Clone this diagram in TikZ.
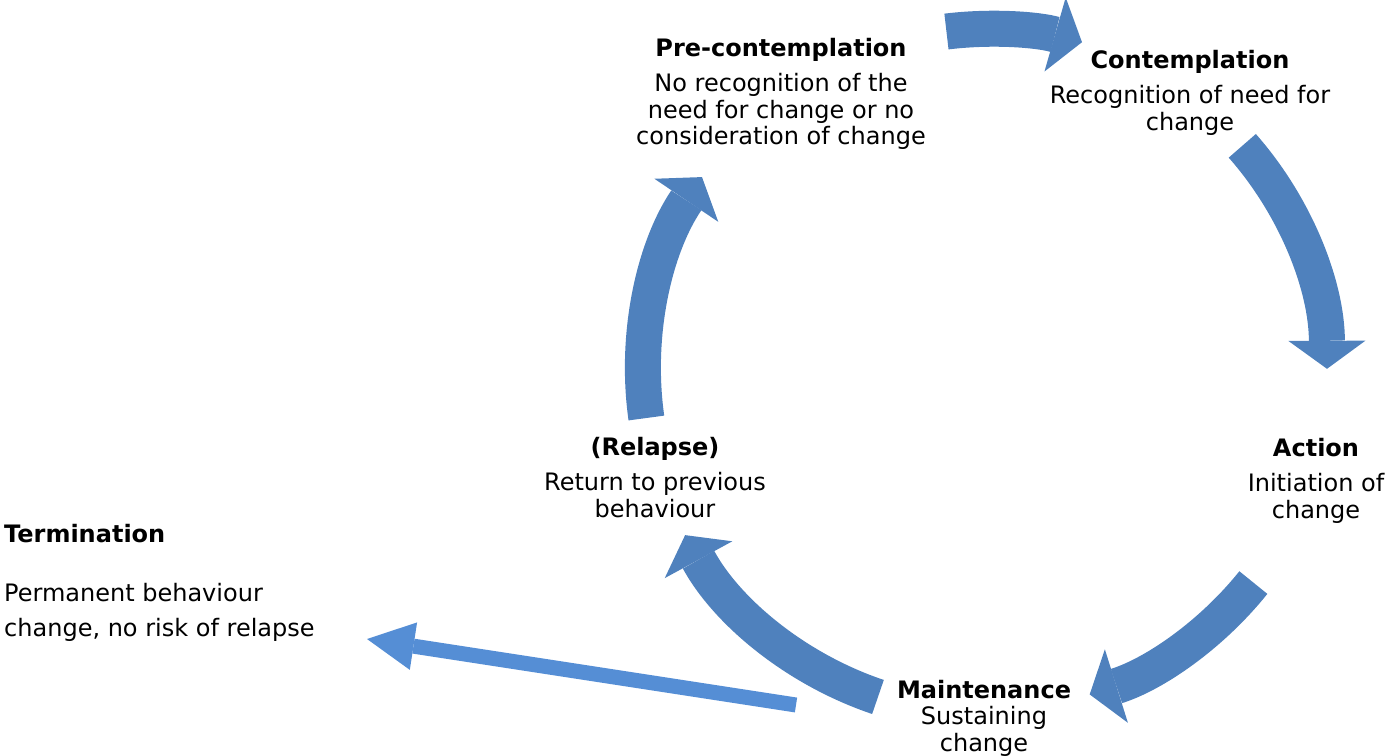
\documentclass[tikz,border=0pt]{standalone}
\usepackage{fontspec}
\setmainfont{DejaVu Sans}
\usepackage{tikz}
\usetikzlibrary{arrows.meta,calc,positioning}
\definecolor{cycleblue}{HTML}{4F81BD}
\definecolor{exitblue}{HTML}{558ED5}

\begin{document}
\begin{tikzpicture}[x=1pt,y=1pt,font=\fontsize{24}{26.5}\selectfont]
\tikzstyle{stage} = [align=center,inner sep=0pt,anchor=north]
\tikzstyle{cycle} = [draw=cycleblue,line width=36pt,-{Triangle[width=77pt,length=28pt,line width=0pt]}]
\tikzstyle{exit} = [draw=exitblue,line width=15pt,-{Triangle[width=48pt,length=47pt,line width=0pt]}]
\useasboundingbox (0,0) rectangle (1388,755);

\coordinate (hub) at (988,385);

% stages
\node[stage] (pre) at (781,717) {\textbf{Pre-contemplation}\\[9pt]No recognition of the\\need for change or no\\consideration of change};
\node[stage] (con) at (1190,705) {\textbf{Contemplation}\\[9pt]Recognition of need for\\change};
\node[stage] (act) at (1316,317) {\textbf{Action}\\[9pt]Initiation of\\change};
\node[stage] (main) at (984,75) {\textbf{Maintenance}\\Sustaining\\change};
\node[stage] (rel) at (655,318) {\textbf{(Relapse)}\\[9pt]Return to previous\\behaviour};
\node[inner sep=0pt,anchor=north west,align=left] (term) at (4,231) {\textbf{Termination}\\[33pt]Permanent behaviour\\[8pt]change, no risk of relapse};

% cycle arrows
\draw[cycle] ($(hub)+(97:341)$) arc[start angle=97,end angle=74,radius=341];
\draw[cycle] ($(hub)+(41.4:339)$) arc[start angle=41.4,end angle=0.2,radius=339];
\draw[cycle] ($(hub)+(-38.7:340)$) arc[start angle=-38.7,end angle=-72.6,radius=340];
\draw[cycle] ($(hub)+(-108.6:345)$) arc[start angle=-108.6,end angle=-151.4,radius=345];
\draw[cycle] ($(hub)+(188:345)$) arc[start angle=188,end angle=146,radius=345];

% way out
\coordinate (termtail) at (796,50);
\coordinate (termtip) at (367,116);
\draw[exit] (termtail) -- (termtip);
\end{tikzpicture}
\end{document}
